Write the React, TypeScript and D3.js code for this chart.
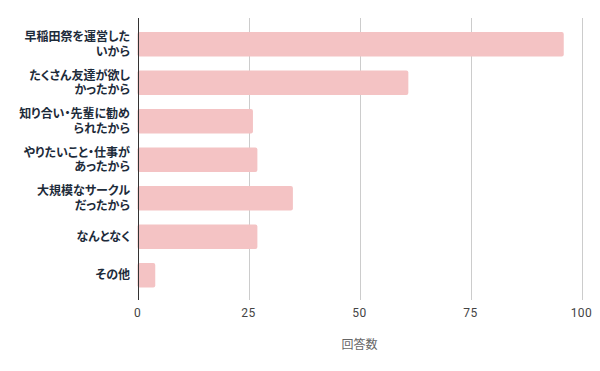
import React, { useEffect, useRef } from "react";
import * as d3 from "d3";

// reasons (label lines) and answer counts
const categories: string[][] = [
  ["早稲田祭を運営した", "いから"],
  ["たくさん友達が欲し", "かったから"],
  ["知り合い・先輩に勧め", "られたから"],
  ["やりたいこと・仕事が", "あったから"],
  ["大規模なサークル", "だったから"],
  ["なんとなく"],
  ["その他"],
];
const counts: number[] = [96, 61, 26, 27, 35, 27, 4];
const xTicks: number[] = [0, 25, 50, 75, 100];
const xTitle = "回答数";

const App: React.FC = () => {
  const svgRef = useRef<SVGSVGElement | null>(null);
  const width = 600;
  const height = 371;

  useEffect(() => {
    const svg = d3.select(svgRef.current);
    svg.selectAll("*").remove();

    const plotTop = 18;
    const plotBottom = 300;

    const x = d3.scaleLinear().domain([0, 100]).range([137.5, 581.5]);
    const y = d3
      .scaleBand<number>()
      .domain(d3.range(categories.length))
      .range([25, 294.5])
      .paddingInner(0.36)
      .paddingOuter(0.18);

    // gridlines
    svg
      .append("g")
      .selectAll("line")
      .data(xTicks.filter(t => t !== 0))
      .join("line")
      .attr("x1", d => Math.round(x(d)) + 0.5)
      .attr("x2", d => Math.round(x(d)) + 0.5)
      .attr("y1", plotTop)
      .attr("y2", plotBottom)
      .attr("stroke", "#cccccc")
      .attr("stroke-width", 1);

    // bars
    svg
      .append("g")
      .selectAll("rect")
      .data(counts)
      .join("rect")
      .attr("x", x(0))
      .attr("y", (_, i) => y(i) || 0)
      .attr("width", d => x(d) - x(0))
      .attr("height", y.bandwidth())
      .attr("rx", 2)
      .attr("fill", "#f4c3c4");

    // zero axis line
    svg
      .append("line")
      .attr("x1", Math.round(x(0)) + 0.5)
      .attr("x2", Math.round(x(0)) + 0.5)
      .attr("y1", plotTop)
      .attr("y2", plotBottom)
      .attr("stroke", "#333333")
      .attr("stroke-width", 1);

    // category labels
    const labels = svg
      .append("g")
      .attr("font-family", "'Noto Sans CJK JP', sans-serif")
      .attr("font-size", 12)
      .attr("font-weight", "bold")
      .attr("fill", "#1d2b3a")
      .attr("text-anchor", "end")
      .style("font-feature-settings", "'palt'");

    categories.forEach((lines, i) => {
      const cy = (y(i) || 0) + y.bandwidth() / 2;
      const lh = 14.5;
      const start = cy - ((lines.length - 1) * lh) / 2;
      const t = labels.append("text");
      lines.forEach((ln, j) => {
        t.append("tspan")
          .attr("x", 130)
          .attr("y", start + j * lh)
          .attr("dy", "0.35em")
          .text(ln);
      });
    });

    // tick labels
    svg
      .append("g")
      .attr("font-family", "Roboto, sans-serif")
      .attr("font-size", 12)
      .attr("fill", "#444444")
      .attr("text-anchor", "middle")
      .selectAll("text")
      .data(xTicks)
      .join("text")
      .attr("x", d => x(d))
      .attr("y", 313)
      .attr("dy", "0.35em")
      .attr("letter-spacing", "0.5px")
      .text(d => d);

    // axis title
    svg
      .append("text")
      .attr("x", x(50))
      .attr("y", 345)
      .attr("dy", "0.35em")
      .attr("text-anchor", "middle")
      .attr("font-family", "'Noto Sans CJK JP', sans-serif")
      .attr("font-size", 12)
      .attr("fill", "#666666")
      .text(xTitle);
  }, []);

  return (
    <svg
      ref={svgRef}
      width={width}
      height={height}
      style={{ position: "absolute", left: 0, top: 0, background: "#fff" }}
    />
  );
};

export default App;
